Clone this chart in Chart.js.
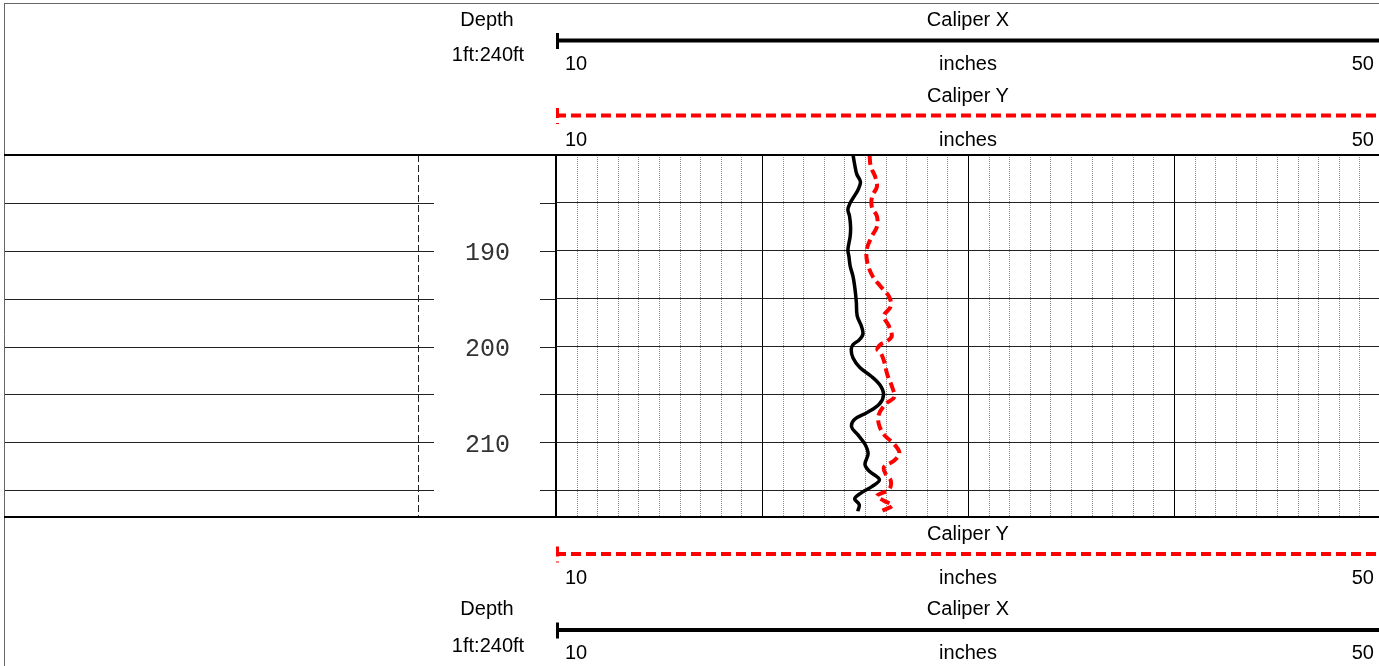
<!DOCTYPE html>
<html>
<head>
<meta charset="utf-8">
<script src="https://cdn.jsdelivr.net/npm/chart.js@4.4.1/dist/chart.umd.min.js"></script>
<style>
  html, body { margin:0; padding:0; background:#fff; overflow:hidden; }
  #wrap { position:relative; width:1379px; height:666px; overflow:hidden; }
  #log { position:absolute; left:0; top:0; }
  .lbl { position:absolute; font-family:"Liberation Sans", Arial, sans-serif; font-size:20px; line-height:1; color:#000; white-space:nowrap; }
</style>
</head>
<body>
<div id="wrap">
  <canvas id="log" width="1400" height="666"></canvas>
</div>
<script>
// Caliper log, depth in ft, caliper in inches
const depthX = [180.0, 181.0, 182.0, 182.8, 183.6, 184.4, 185.0, 185.7, 186.4, 187.5, 188.5, 189.9, 190.6, 191.6, 192.7, 194.1, 195.4, 196.8, 197.9, 198.7, 199.3, 199.8, 200.3, 201.2, 202.2, 203.1, 204.0, 205.0, 206.0, 206.9, 207.6, 208.4, 209.2, 210.2, 211.2, 212.3, 213.0, 213.9, 214.6, 215.3, 215.9, 216.5, 217.2];
const caliperX = [24.42, 24.5, 24.6, 24.78, 24.67, 24.45, 24.28, 24.17, 24.25, 24.3, 24.28, 24.17, 24.22, 24.28, 24.42, 24.52, 24.58, 24.62, 24.83, 24.9, 24.72, 24.42, 24.33, 24.42, 24.75, 25.3, 25.72, 25.9, 25.7, 25.1, 24.5, 24.35, 24.65, 25.0, 25.15, 25.0, 25.2, 25.7, 25.35, 24.8, 24.5, 24.72, 24.65];

const depthY = [180.0, 181.2, 182.3, 183.3, 184.3, 185.4, 186.4, 187.5, 188.5, 189.9, 191.3, 192.7, 193.7, 194.8, 195.8, 196.8, 197.9, 198.9, 199.4, 199.8, 200.3, 200.6, 201.5, 202.9, 204.3, 205.3, 206.0, 207.1, 208.1, 209.2, 210.2, 211.1, 211.9, 212.6, 213.3, 214.0, 214.9, 215.6, 216.1, 216.6, 217.2];
const caliperY = [25.22, 25.28, 25.5, 25.58, 25.35, 25.33, 25.58, 25.58, 25.33, 25.08, 25.12, 25.38, 25.75, 26.17, 26.25, 25.92, 26.17, 26.3, 26.1, 25.75, 25.6, 25.75, 25.92, 26.08, 26.33, 26.42, 26.0, 25.67, 25.67, 25.92, 26.42, 26.67, 26.42, 25.92, 26.0, 26.25, 26.17, 25.58, 25.92, 26.33, 25.75];

const depthLabels = [190, 200, 210];
const depthRange = [180, 217.8];
const caliperRange = [10, 50];

// grid, left track, header/footer curve keys
const logFrame = {
  id: 'logFrame',
  beforeDraw(chart) {
    const ctx = chart.ctx;
    const a = chart.chartArea;
    const xs = chart.scales.x, ys = chart.scales.y;
    ctx.save();
    // minor inch lines
    ctx.strokeStyle = '#8c8c8c';
    ctx.lineWidth = 1;
    ctx.setLineDash([1, 1]);
    for (let v = caliperRange[0] + 1; v < caliperRange[1]; v++) {
      if (v % 10 === 0) continue;
      const px = Math.round(xs.getPixelForValue(v)) + 0.5;
      ctx.beginPath(); ctx.moveTo(px, a.top); ctx.lineTo(px, a.bottom); ctx.stroke();
    }
    ctx.setLineDash([]);
    // depth lines in left track and depth column
    ctx.strokeStyle = '#222';
    ys.ticks.forEach(t => {
      if (t.value === depthRange[0]) return;
      const py = Math.round(ys.getPixelForValue(t.value)) + 0.5;
      ctx.beginPath(); ctx.moveTo(4, py); ctx.lineTo(434, py); ctx.stroke();
      ctx.beginPath(); ctx.moveTo(540, py); ctx.lineTo(a.left, py); ctx.stroke();
    });
    // dashed track edge
    ctx.setLineDash([7, 3]);
    ctx.beginPath(); ctx.moveTo(418.5, a.top); ctx.lineTo(418.5, a.bottom); ctx.stroke();
    ctx.restore();
  },
  afterDraw(chart) {
    const ctx = chart.ctx;
    const a = chart.chartArea;
    const W = chart.width;
    ctx.save();
    // outer frame
    ctx.strokeStyle = '#666';
    ctx.lineWidth = 1;
    ctx.beginPath(); ctx.moveTo(4.5, 3); ctx.lineTo(4.5, chart.height); ctx.stroke();
    ctx.beginPath(); ctx.moveTo(4, 3.5); ctx.lineTo(W, 3.5); ctx.stroke();
    // track top / bottom
    ctx.strokeStyle = '#000';
    ctx.lineWidth = 2;
    ctx.beginPath(); ctx.moveTo(4, a.top); ctx.lineTo(W, a.top); ctx.stroke();
    ctx.beginPath(); ctx.moveTo(4, a.bottom); ctx.lineTo(W, a.bottom); ctx.stroke();

    const x0 = a.left + 1.5;
    function key(y, color, dash) {
      ctx.strokeStyle = color;
      ctx.setLineDash(dash);
      ctx.lineWidth = 4;
      ctx.beginPath(); ctx.moveTo(a.left, y); ctx.lineTo(W, y); ctx.stroke();
      ctx.lineWidth = 3;
      ctx.beginPath(); ctx.moveTo(x0, y - 7.5); ctx.lineTo(x0, y + 8.5); ctx.stroke();
    }
    key(40.5, '#000', []);
    key(115.5, '#ff0000', [10, 5]);
    key(554, '#ff0000', [10, 5]);
    key(630, '#000', []);
    ctx.restore();
  }
};

const chart = new Chart(document.getElementById('log'), {
  type: 'line',
  data: {
    datasets: [
      {
        label: 'Caliper X',
        data: depthX.map((d, i) => ({ x: caliperX[i], y: d })),
        borderColor: '#000', borderWidth: 3.5, pointRadius: 0, tension: 0.35, fill: false
      },
      {
        label: 'Caliper Y',
        data: depthY.map((d, i) => ({ x: caliperY[i], y: d })),
        borderColor: '#ff0000', borderWidth: 4, borderDash: [10, 5], pointRadius: 0, tension: 0.35, fill: false
      }
    ]
  },
  options: {
    indexAxis: 'y',
    responsive: false,
    animation: false,
    events: [],
    layout: { padding: { left: 418, top: 155, right: 20, bottom: 149 } },
    plugins: { legend: { display: false }, tooltip: { enabled: false } },
    scales: {
      x: {
        type: 'linear', position: 'bottom', min: caliperRange[0], max: caliperRange[1],
        ticks: { display: false, stepSize: 10 },
        grid: { color: '#000', lineWidth: c => (c.tick && c.tick.value === caliperRange[0]) ? 2 : 1, drawTicks: false },
        border: { display: false },
        afterFit: s => { s.height = 0; }
      },
      y: {
        type: 'linear', position: 'left', reverse: true, min: depthRange[0], max: depthRange[1],
        afterFit: s => { s.width = 138; },
        ticks: {
          stepSize: 5, includeBounds: false, autoSkip: false, crossAlign: 'center',
          padding: 46, labelOffset: 3, color: '#333',
          font: { family: '"Liberation Mono", monospace', size: 25 },
          callback: v => depthLabels.includes(v) ? String(v) : ''
        },
        grid: { color: '#222', lineWidth: 1, drawTicks: false },
        border: { display: false }
      }
    }
  },
  plugins: [logFrame]
});

// header and footer text
const wrap = document.getElementById('wrap');
function addLabel(text, x, y, align) {
  const el = document.createElement('div');
  el.className = 'lbl';
  el.textContent = text;
  el.style.left = x + 'px';
  el.style.top = y + 'px';
  const tx = align === 'left' ? '0' : align === 'right' ? '-100%' : '-50%';
  el.style.transform = 'translate(' + tx + ', -50%)';
  wrap.appendChild(el);
}
const xs = chart.scales.x;
const xLeft = xs.getPixelForValue(caliperRange[0]) + 9;
const xMid = xs.getPixelForValue((caliperRange[0] + caliperRange[1]) / 2);
const xRight = 1374;
function scaleRow(y) {
  addLabel(String(caliperRange[0]), xLeft, y, 'left');
  addLabel('inches', xMid, y, 'center');
  addLabel(String(caliperRange[1]), xRight, y, 'right');
}
addLabel('Depth', 487, 19, 'center');
addLabel('1ft:240ft', 488, 54, 'center');
addLabel('Caliper X', xMid, 19, 'center');
scaleRow(63);
addLabel('Caliper Y', xMid, 95, 'center');
scaleRow(139);

addLabel('Caliper Y', xMid, 533, 'center');
scaleRow(577);
addLabel('Depth', 487, 608, 'center');
addLabel('Caliper X', xMid, 608, 'center');
addLabel('1ft:240ft', 488, 645, 'center');
scaleRow(652);
</script>
</body>
</html>
